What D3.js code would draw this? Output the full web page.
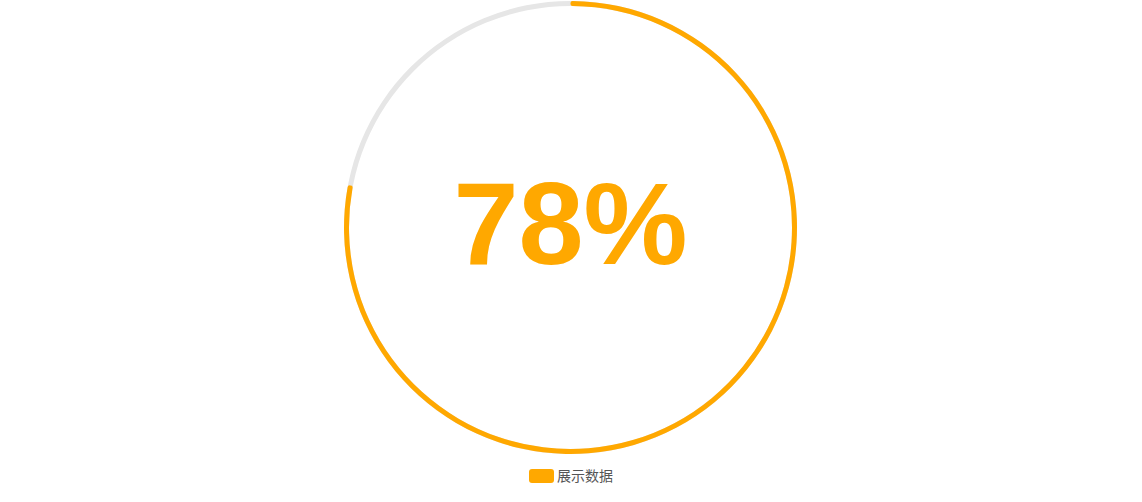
<!DOCTYPE html>
<html><head><meta charset="utf-8">
<script src="https://cdn.jsdelivr.net/npm/d3@7"></script>
<style>html,body{margin:0;padding:0;background:#fff;}</style>
</head><body>
<svg id="chart" width="1142" height="502"></svg>
<script>
const seriesName = ["展示数据"];
const percentValue = [78];
const totalValue = [100];
const colors = ["#ffa800", "#e6e6e6"];

const svg = d3.select("#chart");
const cx = 570.5, cy = 227.5;
const outerR = 226.5, innerR = 221.5;

const data = [percentValue[0], totalValue[0] - percentValue[0]];
const pie = d3.pie().sort(null).value(d => d);
const arc = d3.arc().innerRadius(innerR).outerRadius(outerR).cornerRadius(2);

const g = svg.append("g").attr("transform", `translate(${cx},${cy})`);
g.append("path").attr("d", d3.arc().innerRadius(innerR).outerRadius(outerR)({startAngle:0,endAngle:2*Math.PI})).attr("fill", colors[1]);
g.append("path").attr("d", arc(pie(data)[0])).attr("fill", colors[0]);

g.append("text")
  .attr("x", 0).attr("y", 36)
  .attr("text-anchor", "middle")
  .attr("font-family", "Liberation Sans, Arial, sans-serif")
  .attr("font-weight", "bold")
  .attr("font-size", 117)
  .attr("fill", colors[0])
  .text(percentValue[0] + "%");

const lg = svg.append("g").attr("transform", "translate(529,469)");
lg.append("rect").attr("width", 25).attr("height", 14).attr("rx", 3).attr("fill", colors[0]);
lg.append("text").attr("x", 28).attr("y", 7).attr("dy", "0.35em")
  .attr("font-family", "Noto Sans CJK SC, sans-serif").attr("font-size", 14).attr("fill", "#555")
  .text(seriesName[0]);
</script>
</body></html>
